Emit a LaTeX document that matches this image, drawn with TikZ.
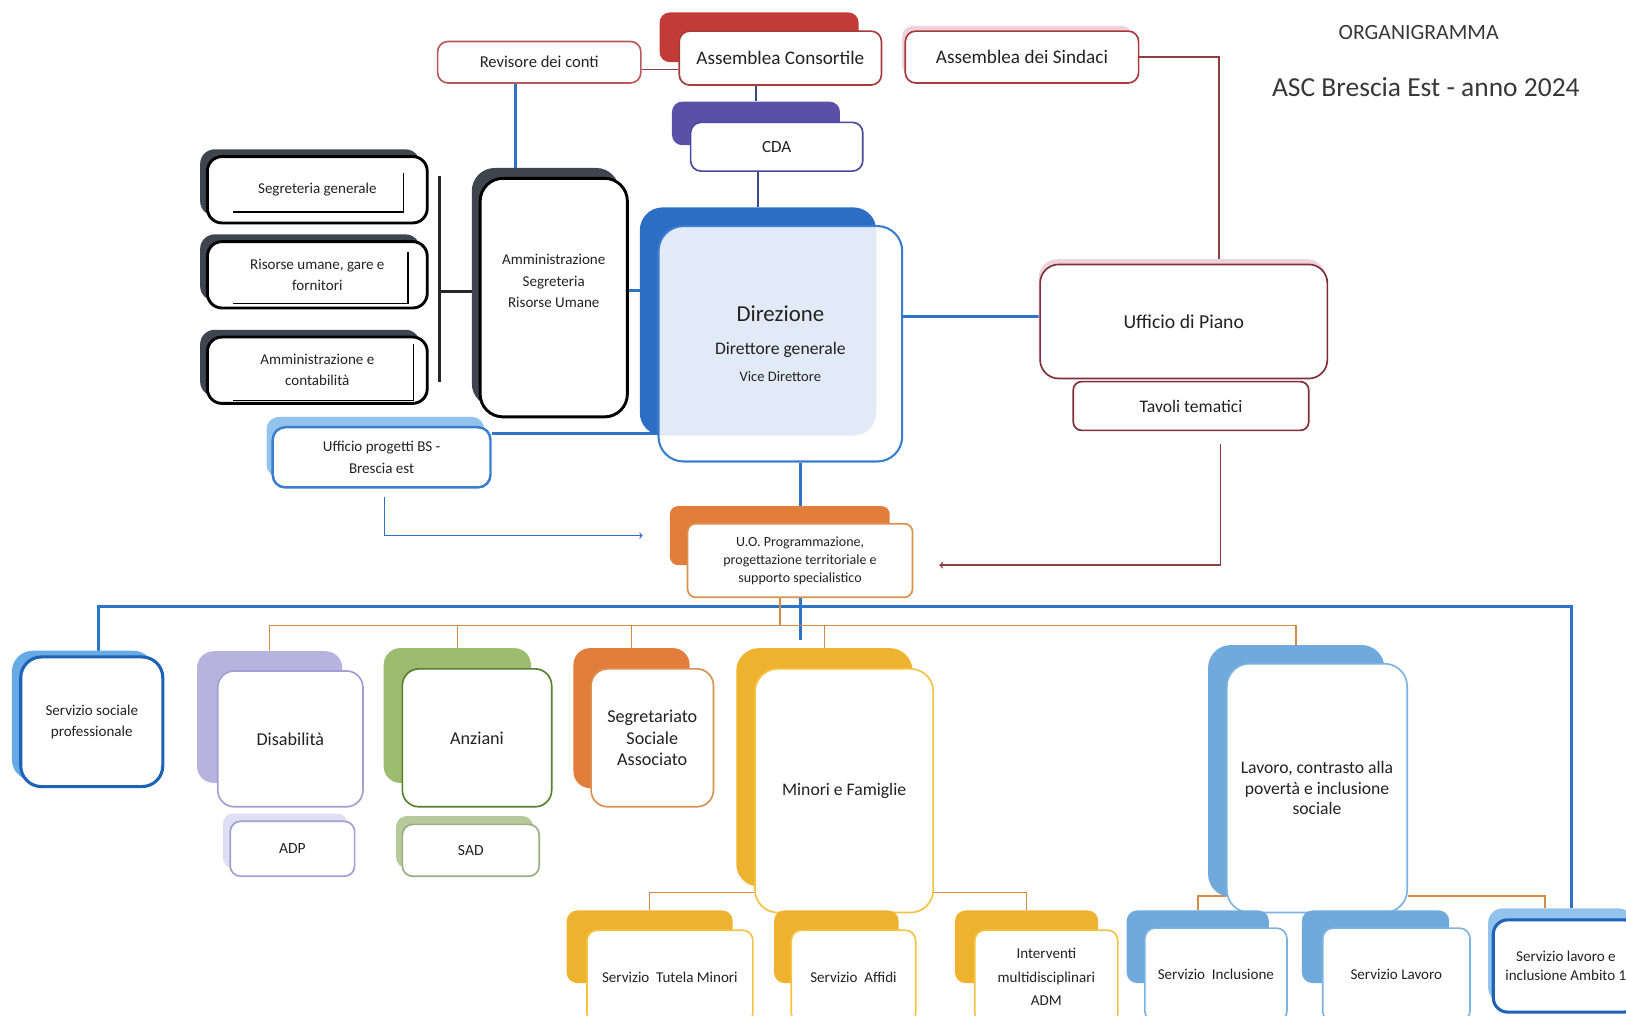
\documentclass[tikz,border=0pt]{standalone}
\usepackage{fontspec}
\setmainfont{Carlito}
\newcommand{\fs}[2]{\fontsize{#1}{#2}\selectfont}

\definecolor{txtcol}{HTML}{222222}
\definecolor{redbk}{HTML}{C33B36}
\definecolor{redfr}{HTML}{A83A3C}
\definecolor{revcol}{HTML}{B9585A}
\definecolor{redln}{HTML}{8E3F40}
\definecolor{pinkbk}{HTML}{EED3DC}
\definecolor{purplebk}{HTML}{5B50A8}
\definecolor{purplefr}{HTML}{4A4A9C}
\definecolor{navyln}{HTML}{3A4C86}
\definecolor{darkbk}{HTML}{3E454F}
\definecolor{dirbk}{HTML}{2C6EC4}
\definecolor{dirfr}{HTML}{3B7ED0}
\definecolor{blueln}{HTML}{2F73C7}
\definecolor{lightbl}{HTML}{92C3EC}
\definecolor{maroon}{HTML}{7E2F3B}
\definecolor{orangebk}{HTML}{E27D3C}
\definecolor{orangefr}{HTML}{D9914F}
\definecolor{orangeln}{HTML}{D48C45}
\definecolor{socbk}{HTML}{68AAE5}
\definecolor{socfr}{HTML}{1F63B8}
\definecolor{lavbk}{HTML}{B7B3DF}
\definecolor{lavfr}{HTML}{A29ED3}
\definecolor{lavlt}{HTML}{E0DEF2}
\definecolor{greenbk}{HTML}{9EBC70}
\definecolor{greenfr}{HTML}{55802F}
\definecolor{greenlt}{HTML}{B7CA9B}
\definecolor{yellowbk}{HTML}{EFB22E}
\definecolor{yellowfr}{HTML}{F2C445}
\definecolor{lavorobk}{HTML}{70A9DB}
\definecolor{lavorofr}{HTML}{7DB3E0}

\pgfdeclarelayer{bg}
\pgfsetlayers{bg,main}

\begin{document}
\begin{tikzpicture}[x=1pt, y=-1pt]
	\tikzstyle{back}=[rectangle, rounded corners=10pt, inner sep=0pt]
	\tikzstyle{front}=[rectangle, rounded corners=10pt, fill=white, line width=1.6pt, align=center, inner sep=0pt, text=txtcol]
	\tikzstyle{title}=[text=txtcol!90]
	\tikzstyle{blueline}=[draw=blueln, line width=3pt]
	\tikzstyle{thinblue}=[draw=blueln, line width=1.2pt]
	\tikzstyle{navyline}=[draw=navyln, line width=2.2pt]
	\tikzstyle{redline}=[draw=redln, line width=1.3pt]
	\tikzstyle{darkline}=[draw=black!85, line width=2.6pt]
	\tikzstyle{orangeline}=[draw=orangeln, line width=1.5pt]
	\useasboundingbox (0,0) rectangle (1568,979);
	% Title
	\node[title, font=\fs{21}{25}] (org) at (1368,31) {ORGANIGRAMMA};
	\node[title, font=\fs{26.5}{30}] (asc) at (1375,84) {ASC Brescia Est - anno 2024};
	%---------------------%
	% Governance
	\node[back, fill=redbk, minimum width=192pt, minimum height=48pt] (assemblea-back) at (732,36) {};
	\node[front, draw=redfr, minimum width=195pt, minimum height=52pt, font=\fs{18.5}{22}] (assemblea) at (752.5,56) {Assemblea Consortile};
	\node[front, draw=revcol, minimum width=196pt, minimum height=40pt, font=\fs{16}{19}] (revisore) at (520,60) {Revisore dei conti};
	\node[back, fill=pinkbk, minimum width=222pt, minimum height=48pt] (sindaci-back) at (981,49) {};
	\node[front, draw=redfr, minimum width=225pt, minimum height=50pt, font=\fs{18.5}{22}] (sindaci) at (985.5,55) {Assemblea dei Sindaci};
	\node[back, fill=purplebk, minimum width=162pt, minimum height=42pt] (cda-back) at (729,119) {};
	\node[front, draw=purplefr, minimum width=166pt, minimum height=47pt, font=\fs{16.5}{20}] (cda) at (749,141.5) {CDA};
	%---------------------%
	% Amministrazione
	\foreach \n/\y/\t in {seggen/183/{Segreteria generale}, risorse/265/{Risorse umane, gare e\\fornitori}, ammcont/357/{Amministrazione e\\contabilità}}{
		\node[back, fill=darkbk, minimum width=212pt, minimum height=64pt, rounded corners=14pt] (\n-back) at (299,\y-7) {};
		\node[front, draw=black, line width=2.8pt, minimum width=212pt, minimum height=64pt, rounded corners=14pt, font=\fs{14.5}{20}] (\n) at (306,\y) {\t};
	}
	\foreach \n/\dx/\dt/\db in {seggen/24/17/12, risorse/20/11/6, ammcont/15/8/4}
		\draw[black, line width=1.2pt] ([xshift=-\dx*1pt, yshift=-\dt*1pt]\n.north east) |- ([xshift=26pt, yshift=\db*1pt]\n.south west);
	\node[back, fill=darkbk, minimum width=142pt, minimum height=230pt, rounded corners=22pt] (amm-back) at (526,277) {};
	\node[front, draw=black, line width=2.8pt, minimum width=142pt, minimum height=230pt, rounded corners=22pt,
		label={[font=\fs{14.5}{21}, align=center, text=txtcol, yshift=16pt]center:{Amministrazione\\Segreteria\\Risorse Umane}}] (amm) at (534,287) {};
	\coordinate (bus-top) at (424,170);
	\coordinate (bus-bot) at (424,368);
	% Direzione
	\node[back, fill=dirbk, minimum width=228pt, minimum height=220pt, rounded corners=22pt] (direzione-back) at (731,310) {};
	\node[front, draw=dirfr, line width=2pt, fill opacity=0.86, text opacity=1, minimum width=235pt, minimum height=227pt, rounded corners=24pt, font=\fs{17}{26}] (direzione) at (752.5,331.5)
		{{\fs{22}{26}Direzione}\\[6pt]Direttore generale\\{\fs{14}{17}Vice Direttore}};
	\node[back, fill=lightbl, minimum width=210pt, minimum height=58pt, rounded corners=12pt] (progetti-back) at (362,431) {};
	\node[front, draw=dirfr, line width=2.4pt, minimum width=210pt, minimum height=58pt, rounded corners=12pt, font=\fs{14.5}{22}] (progetti) at (368,441) {Ufficio progetti BS -\\Brescia est};
	% Ufficio di Piano
	\node[back, fill=pinkbk, minimum width=277pt, minimum height=110pt, rounded corners=18pt] (piano-back) at (1140,305) {};
	\node[front, draw=maroon, minimum width=277pt, minimum height=110pt, rounded corners=18pt, font=\fs{19}{23}] (piano) at (1141.5,310) {Ufficio di Piano};
	\node[front, draw=maroon, minimum width=227pt, minimum height=47pt, rounded corners=8pt, font=\fs{17}{20}] (tavoli) at (1148.5,391.5) {Tavoli tematici};
	% U.O.
	\node[back, fill=orangebk, minimum width=212pt, minimum height=57pt, rounded corners=8pt] (uo-back) at (752,516.5) {};
	\node[front, draw=orangefr, minimum width=217pt, minimum height=71pt, rounded corners=8pt, font=\fs{13.5}{17.5}] (uo) at (771.5,540.5) {U.O. Programmazione,\\progettazione territoriale e\\supporto specialistico};
	%---------------------%
	% Servizi
	\node[back, fill=socbk, minimum width=137pt, minimum height=125pt, rounded corners=20pt] (sociale-back) at (80,690) {};
	\node[front, draw=socfr, line width=3pt, minimum width=137pt, minimum height=125pt, rounded corners=20pt, font=\fs{14.5}{20}] (sociale) at (88.5,696) {Servizio sociale\\professionale};
	\node[back, fill=lavbk, minimum width=140pt, minimum height=127pt, rounded corners=16pt] (disab-back) at (260,691.5) {};
	\node[front, draw=lavfr, minimum width=140pt, minimum height=131pt, rounded corners=16pt, font=\fs{17.5}{21}] (disab) at (280,712.5) {Disabilità};
	\node[back, fill=lavlt, minimum width=120pt, minimum height=53pt] (adp-back) at (275,811) {};
	\node[front, draw=lavfr, minimum width=120pt, minimum height=53pt, font=\fs{15}{18}] (adp) at (282,818.5) {ADP};
	\node[back, fill=greenbk, minimum width=142pt, minimum height=130pt, rounded corners=16pt] (anziani-back) at (441,690) {};
	\node[front, draw=greenfr, minimum width=144pt, minimum height=133pt, rounded corners=16pt, font=\fs{17.5}{21}] (anziani) at (460,711.5) {Anziani};
	\node[back, fill=greenlt, minimum width=132pt, minimum height=50pt] (sad-back) at (448,812) {};
	\node[front, draw=greenlt!85!black, minimum width=132pt, minimum height=50pt, font=\fs{15}{18}] (sad) at (454,820) {SAD};
	\node[back, fill=orangebk, minimum width=112pt, minimum height=135pt, rounded corners=16pt] (segretariato-back) at (609,692.5) {};
	\node[front, draw=orangefr, minimum width=118pt, minimum height=133pt, rounded corners=16pt, font=\fs{17.5}{21}] (segretariato) at (629,711.5) {Segretariato\\Sociale\\Associato};
	\node[back, fill=yellowbk, minimum width=170pt, minimum height=230pt, rounded corners=22pt] (minori-back) at (795,740) {};
	\node[front, draw=yellowfr, minimum width=172pt, minimum height=235pt, rounded corners=22pt, font=\fs{17}{21}] (minori) at (814,762.5) {Minori e Famiglie};
	\foreach \n/\bx/\fx/\w/\t in {tutela/626.5/646/160/{Servizio~ Tutela Minori}, affidi/806.5/823/120/{Servizio~ Affidi}, adm/990/1009/138/{Interventi\\multidisciplinari\\ADM}}{
		\node[back, fill=yellowbk, minimum width=\w*1pt, minimum height=70pt] (\n-back) at (\bx,913) {};
		\node[front, draw=yellowfr, minimum width=\w*1pt, minimum height=90pt, font=\fs{14.5}{22.5}] (\n) at (\fx,942) {\t};
	}
	\node[back, fill=lavorobk, minimum width=170pt, minimum height=243pt, rounded corners=22pt] (lavoro-back) at (1250,743.5) {};
	\node[front, draw=lavorofr, minimum width=174pt, minimum height=240pt, rounded corners=22pt, font=\fs{17}{20}] (lavoro) at (1270,760) {Lavoro, contrasto alla\\povertà e inclusione\\sociale};
	\foreach \n/\bx/\fx/\w/\t in {inclusione/1155/1172.5/137/{Servizio~ Inclusione}, servlavoro/1326.5/1346.5/142/{Servizio Lavoro}}{
		\node[back, fill=lavorobk, minimum width=\w*1pt, minimum height=70pt] (\n-back) at (\bx,913) {};
		\node[front, draw=lavorofr, minimum width=\w*1pt, minimum height=90pt, font=\fs{14.5}{18}] (\n) at (\fx,940) {\t};
	}
	\node[back, fill=lightbl, minimum width=140pt, minimum height=90pt, rounded corners=14pt] (ambito-back) at (1505,921) {};
	\node[front, draw=socfr, line width=3pt, minimum width=140pt, minimum height=89pt, rounded corners=14pt, font=\fs{14.5}{19}] (ambito) at (1510,931.5) {Servizio lavoro e\\inclusione Ambito 1};
	\coordinate (bbus-l) at (95,585);
	\coordinate (bbus-r) at (1515,585);
	\coordinate (stem-end) at (772,617);
	\coordinate (obus) at (752,603);
	%---------------------%
	\begin{pgfonlayer}{bg}
		% Governance
		\draw[redline] ([yshift=-7pt]revisore.east) -- ([yshift=-7pt]revisore.east -| assemblea.west);
		\draw[navyline] (assemblea.south -| cda-back.north) -- (cda-back.north);
		\draw[navyline] (cda.south -| direzione-back.north) -- (direzione-back.north);
		\draw[blueline] ([xshift=-23pt]revisore.south) -- ([xshift=-23pt]revisore.south |- amm-back.north);
		\draw[redline] (sindaci.east) -| ([xshift=34pt]piano.north);
		% Amministrazione -> Direzione
		\draw[darkline] (bus-top) -- (bus-bot);
		\draw[darkline] ([yshift=6pt]amm.west) -- ([yshift=6pt]amm.west -| bus-top);
		\draw[blueline] ([yshift=7pt]amm.east) -- ([yshift=7pt]amm.east -| direzione-back.west);
		\draw[blueline] ([yshift=23pt]progetti.east) -- ([yshift=23pt]progetti.east -| direzione-back.center);
		\draw[blueline] ([yshift=5pt]piano.west) -- ([yshift=5pt]piano.west -| direzione.east);
		\draw[blueline] ([xshift=19.5pt]direzione.south) -- ([xshift=19.5pt]direzione.south |- uo-back.north);
		% Arrows -> U.O.
		\draw[thinblue, ->, shorten <=8pt, shorten >=26pt] ([xshift=3pt]progetti.south) |- (uo-back.west);
		\draw[redline, ->, shorten <=12pt, shorten >=25pt] ([xshift=28.5pt]tavoli.south) |- ([yshift=-4.5pt]uo.east);
		% Blue bus
		\draw[blueline] (bbus-l |- sociale-back.north) -- (bbus-l) -- (bbus-r) -- (bbus-r |- ambito-back.north);
		\draw[blueline] (uo.south -| stem-end) -- (stem-end);
		% Orange bus
		\draw[orangeline] (uo.south -| obus) -- (obus);
		\draw[orangeline] (disab-back.north) |- (obus) -| (lavoro-back.north);
		\foreach \n in {anziani, segretariato, minori}
			\draw[orangeline] (\n-back.north) -- (\n-back.north |- obus);
		% Sub-branches
		\draw[orangeline] ([yshift=20pt]minori.south west) -| (tutela-back.north);
		\draw[orangeline] ([yshift=20pt]minori.south east) -| (adm-back.north);
		\draw[orangeline] ([yshift=17pt]lavoro.south west) -| (inclusione-back.north);
		\draw[orangeline] ([yshift=17pt]lavoro.south east) -| ([xshift=-15pt]ambito-back.north);
	\end{pgfonlayer}
\end{tikzpicture}
\end{document}
